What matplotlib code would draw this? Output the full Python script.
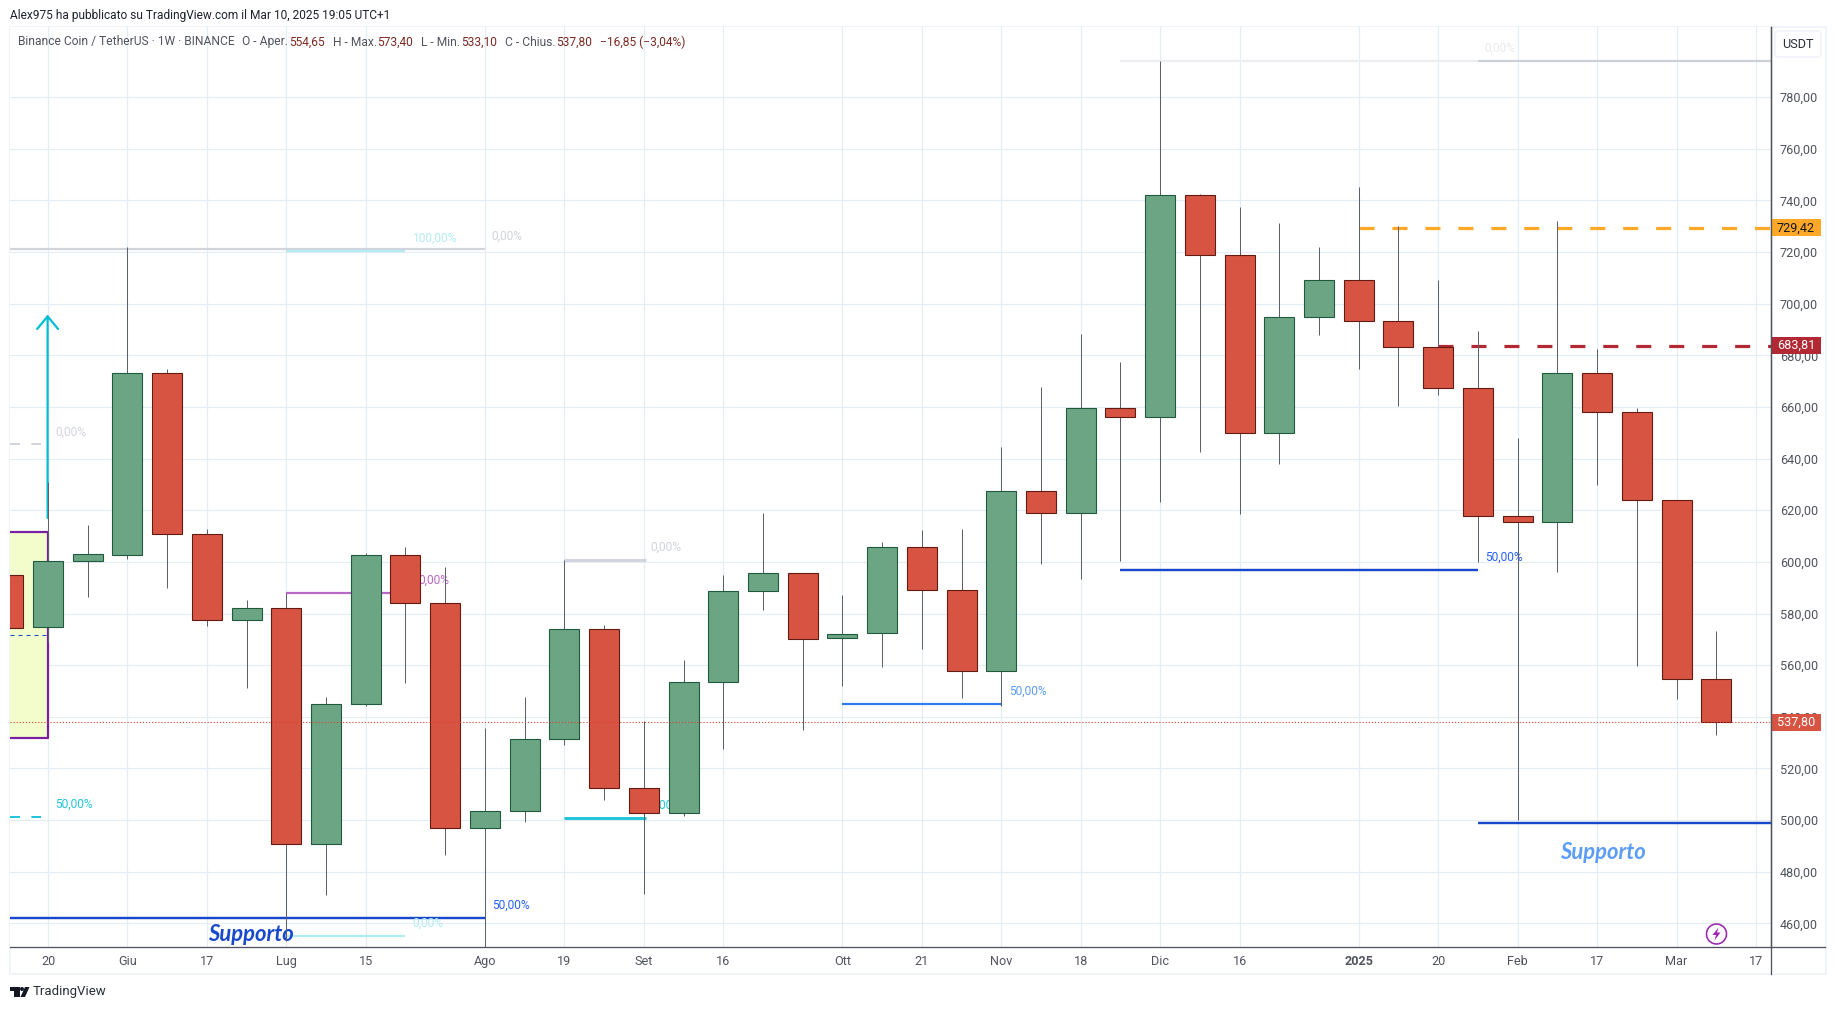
import matplotlib
matplotlib.use('Agg')
import matplotlib.pyplot as plt
from matplotlib.lines import Line2D
from matplotlib.patches import Rectangle, Polygon, Ellipse, FancyBboxPatch

# weekly candles, index 0 = 20 May 2024, first one is cut by the left edge
week_idx = list(range(-1, 43))
opens = [594.8, 574.7, 600.2, 602.6, 673.0, 610.7, 577.4, 582.0, 490.6, 544.9, 602.6,
         584.0, 496.8, 503.4, 531.3, 573.9, 512.3, 502.9, 553.6, 588.8, 595.8, 570.6,
         572.6, 605.9, 589.2, 557.8, 627.6, 619.0, 659.7, 656.0, 742.0, 718.7, 649.9,
         694.8, 709.1, 693.2, 683.2, 667.3, 617.7, 615.6, 673.0, 658.2, 623.9, 554.65]
highs = [596.0, 631.0, 614.3, 721.9, 674.7, 612.8, 585.3, 588.1, 547.7, 603.5, 605.8,
         598.0, 535.7, 547.7, 600.8, 575.5, 538.5, 562.0, 594.8, 618.8, 595.8, 587.0,
         607.6, 612.2, 612.6, 644.4, 667.6, 688.1, 677.3, 794.1, 742.6, 737.5, 731.3,
         722.0, 745.3, 730.2, 709.2, 689.5, 648.0, 732.1, 682.5, 659.7, 623.9, 573.4]
lows = [570.0, 569.1, 586.4, 601.1, 589.9, 575.2, 551.3, 453.0, 471.0, 544.0, 553.2,
        486.6, 450.0, 499.4, 529.1, 507.9, 471.4, 501.6, 527.5, 581.3, 534.9, 551.9,
        559.3, 566.2, 547.2, 544.2, 599.2, 593.4, 600.3, 623.2, 642.4, 618.6, 638.1,
        688.0, 674.9, 660.2, 664.8, 600.0, 500.0, 596.1, 629.8, 559.8, 546.9, 533.1]
closes = [574.3, 600.2, 603.0, 673.0, 610.7, 577.4, 582.0, 490.6, 544.9, 602.6, 584.0,
          496.8, 503.4, 531.3, 573.9, 512.3, 502.9, 553.6, 588.8, 595.8, 570.2, 572.2,
          605.9, 589.2, 557.8, 627.6, 619.0, 659.7, 656.2, 742.0, 718.7, 649.9, 694.8,
          709.1, 693.2, 683.2, 667.3, 617.7, 615.6, 673.0, 658.2, 623.9, 554.5, 537.8]

price_ticks = [460, 480, 500, 520, 540, 560, 580, 600, 620, 640, 660, 680, 700, 720, 740, 760, 780]
time_idx = [0, 2, 4, 6, 8, 11, 13, 15, 17, 20, 22, 24, 26, 28, 30, 33, 35, 37, 39, 41, 43]
time_labels = ['20', 'Giu', '17', 'Lug', '15', 'Ago', '19', 'Set', '16', 'Ott', '21', 'Nov',
               '18', 'Dic', '16', '2025', '20', 'Feb', '17', 'Mar', '17']

last_close = 537.80
resistance_1 = 729.42
resistance_2 = 683.81

W, H = 1835, 1010
LEFT, RIGHT, TOP, BOTTOM = 10, 1771, 27, 947.3
X0, STEP = 48.0, 39.72
FONT = 'Roboto'
GREEN, GREEN_EDGE = '#6ca584', '#1f5a3e'
RED, RED_EDGE = '#d85442', '#621a12'
GREY_TEXT = '#50535e'


def px(x, y):
    return x / W, 1 - y / H


def fs(size_px):
    return size_px * 0.72


def lw(width_px):
    return width_px * 0.72


fig = plt.figure(figsize=(W / 100, H / 100), dpi=100, facecolor='white')
ax = fig.add_axes([LEFT / W, 1 - BOTTOM / H, (RIGHT - LEFT) / W, (BOTTOM - TOP) / H])
xl = (LEFT - X0) / STEP
xr = (RIGHT - X0) / STEP
ax.set_xlim(xl, xr)
ax.set_ylim(450.7, 807.2)
ax.set_axisbelow(True)
ax.grid(True, color='#e3edf3', lw=lw(1.2))

for s in ['left', 'top']:
    ax.spines[s].set_visible(False)
for s in ['right', 'bottom']:
    ax.spines[s].set_color(GREY_TEXT)
    ax.spines[s].set_linewidth(lw(1.3))

ax.yaxis.tick_right()
ax.set_yticks(price_ticks)
ax.set_yticklabels([f'{p},00' for p in price_ticks], fontfamily=FONT, fontsize=fs(12.6), color=GREY_TEXT,
                   va='center_baseline')
ax.set_xticks(time_idx)
ax.set_xticklabels(time_labels, fontfamily=FONT, fontsize=fs(12.6), color=GREY_TEXT)
ax.tick_params(axis='both', length=0)
ax.tick_params(axis='y', pad=6.5)
ax.tick_params(axis='x', pad=5.5)
ax.get_xticklabels()[15].set_fontweight('bold')


def level(x0, x1, y, color, width, **kw):
    ax.plot([x0, x1], [y, y], color=color, lw=lw(width), solid_capstyle='butt', zorder=1.5, **kw)


def pct(x, y, s, color):
    ax.text(x, y, s, color=color, fontfamily=FONT, fontsize=fs(12), va='center', ha='left', zorder=1.6)


# left box
ax.add_patch(Rectangle((xl, 531.8), -xl, 79.9, facecolor='#f2fdcb', edgecolor='none', zorder=1))
ax.plot([xl, 0, 0, xl], [611.7, 611.7, 531.8, 531.8], color='#7b1fa2', lw=lw(2.2), zorder=1.4)
ax.plot([xl, 0], [571.6, 571.6], color='#1848cc', lw=lw(1), ls=(0, (4, 4)), zorder=1.4)
ax.annotate('', xy=(-0.01, 695.8), xytext=(-0.01, 617), zorder=1.5,
            arrowprops=dict(arrowstyle='->,head_length=0.57,head_width=0.47', color='#00bcd4',
                            lw=lw(2.2), shrinkA=0, shrinkB=0, mutation_scale=16))
level(xl, -0.18, 645.8, '#d1d4dc', 2, ls=(0, (5, 5.7)))
level(xl, -0.18, 501.2, '#26c6da', 2, ls=(0, (5, 5.7)))
pct(0.19, 650.4, '0,00%', '#d1d4dc')
pct(0.19, 506.0, '50,00%', '#26c6da')

# fib levels
level(xl, 11, 721.3, '#d1d4dc', 2.2)
level(6, 9, 720.6, '#b2ebf2', 2.2)
pct(9.19, 725.2, '100,00%', '#b2ebf2')
pct(11.16, 726.0, '0,00%', '#d1d4dc')
level(6, 9, 588.1, '#ba68c8', 2.2)
pct(9.33, 592.8, '0,00%', '#ba68c8')
level(xl, 11, 462.2, '#1848cc', 2.4)
pct(11.18, 466.9, '50,00%', '#2962ff')
level(6, 9, 455.2, '#b2ebf2', 2.2)
pct(9.17, 460.0, '0,00%', '#b2ebf2')
level(13, 15.05, 600.6, '#d1d4dc', 3)
pct(15.17, 605.5, '0,00%', '#d1d4dc')
level(13, 15.05, 500.7, '#26c6da', 3)
pct(15.17, 505.6, '0,00%', '#26c6da')
level(20, 24, 544.9, '#2f7bef', 2.2)
pct(24.2, 549.7, '50,00%', '#5b9cf6')
level(27, 36, 596.9, '#1848cc', 2.4)
pct(36.17, 601.7, '50,00%', '#2962ff')
level(27, 36, 794.0, '#eceef2', 2.2)
level(36, xr, 794.0, '#ccd0d8', 2.2)
pct(36.16, 798.9, '0,00%', '#e8eaee')
level(36, xr, 498.9, '#1848cc', 2.4)

ax.text(5.12, 455.8, 'Supporto', color='#1848cc', fontfamily='Lato', fontweight='bold', fontstyle='italic',
        fontsize=fs(22), ha='center', va='center', zorder=1.55)
ax.text(39.15, 487.4, 'Supporto', color='#5b9cf6', fontfamily='Lato', fontweight='bold', fontstyle='italic',
        fontsize=fs(22), ha='center', va='center', zorder=1.55)

level(33, xr, resistance_1, '#ffa726', 3.2, ls=(0, (4.7, 5.6)))
level(35, xr, resistance_2, '#b22833', 3.2, ls=(0, (4.7, 5.6)))

# candles
for i, o, h, l, c in zip(week_idx, opens, highs, lows, closes):
    up = c >= o
    wick = ax.vlines(i, l, h, color='#5d606b', lw=lw(1), zorder=2)
    wick.set_snap(True)
    ax.bar(i, abs(c - o), bottom=min(o, c), width=30 / STEP, color=GREEN if up else RED,
           edgecolor=GREEN_EDGE if up else RED_EDGE, linewidth=lw(1.1), zorder=3)

ax.axhline(last_close, color='#e0402a', lw=lw(1.1), ls=(0, (1, 1.8)), zorder=4)

# price labels on the axis
trans = ax.get_yaxis_transform()
box_w = 50 / (RIGHT - LEFT)
box_h = 8.4 * (807.2 - 450.7) / (BOTTOM - TOP)
for value, bg, fg in [(resistance_1, '#ffa726', '#131722'), (resistance_2, '#b22833', 'white'),
                      (last_close, '#d85442', 'white')]:
    ax.add_patch(Rectangle((1, value - box_h), box_w, 2 * box_h, transform=trans, facecolor=bg,
                           edgecolor='none', clip_on=False, zorder=6))
    ax.text(1 + box_w / 2, value, f'{value:.2f}'.replace('.', ','), transform=trans, color=fg, ha='center',
            va='center', fontfamily=FONT, fontsize=fs(12.6), zorder=7)

# frame around the pane
fig.add_artist(Rectangle(px(LEFT, 974), (1826 - LEFT) / W, (974 - TOP) / H, transform=fig.transFigure,
                         facecolor='none', edgecolor='#f0f3fa', lw=lw(2), zorder=-1))
fig.add_artist(Line2D(*zip(px(RIGHT, BOTTOM), px(1825, BOTTOM)), color=GREY_TEXT, lw=lw(1.3)))
fig.add_artist(Line2D(*zip(px(RIGHT, TOP), px(RIGHT, 974)), color=GREY_TEXT, lw=lw(1.3)))

fig.add_artist(FancyBboxPatch((1775, H - 57), 46, 26, boxstyle='round,pad=0,rounding_size=4', transform=None,
                              facecolor='white', edgecolor='#f0f3fa', lw=lw(1.5), zorder=5))
fig.text(*px(1798, 44.5), 'USDT', color='#2a2e39', fontfamily=FONT, fontsize=fs(12.6), ha='center', va='center', zorder=6)

# header text and legend line
fig.text(*px(10, 15), 'Alex975 ha pubblicato su TradingView.com il Mar 10, 2025 19:05 UTC+1', color='#1e222d',
         fontfamily=FONT, fontsize=fs(11.95), va='center')
legend_parts = [(17.9, 'Binance Coin / TetherUS · 1W · BINANCE', GREY_TEXT), (242, 'O - Aper.', GREY_TEXT),
                (289, '554,65', '#7a2a22'), (333, 'H - Max.', GREY_TEXT), (377.4, '573,40', '#7a2a22'),
                (420.6, 'L - Min.', GREY_TEXT), (461.4, '533,10', '#7a2a22'), (504.6, 'C - Chius.', GREY_TEXT),
                (556, '537,80', '#7a2a22'), (599.6, '−16,85 (−3,04%)', '#7a2a22')]
for lx, s, col in legend_parts:
    fig.text(*px(lx, 42), s, color=col, fontfamily=FONT, fontsize=fs(12), va='center', zorder=6)

# lightning badge
fig.add_artist(Ellipse(px(1716.5, 934), 20 / W, 20 / H, transform=fig.transFigure, facecolor='none',
                       edgecolor='#9c27b0', lw=lw(1.6), zorder=6))
fig.add_artist(Polygon([px(1718.5, 927.5), px(1712.5, 935), px(1716, 935), px(1714.5, 940.5), px(1720.5, 932.5),
                        px(1717, 932.5)], closed=True, transform=fig.transFigure, facecolor='#9c27b0',
                       edgecolor='none', zorder=6))

# footer logo and name
for pts in ([(10, 987), (19.5, 987), (19.5, 997), (14, 997), (14, 991), (10, 991)],
            [(25, 987), (29.5, 987), (25, 997), (20.5, 997)]):
    fig.add_artist(Polygon([px(*p) for p in pts], closed=True, transform=fig.transFigure, facecolor='#131722',
                           edgecolor='none'))
fig.add_artist(Ellipse(px(22, 989), 4 / W, 4 / H, transform=fig.transFigure, facecolor='#131722', edgecolor='none'))
fig.text(*px(33, 992), 'TradingView', color='#2a2e39', fontfamily=FONT, fontsize=fs(13.2), va='center')

fig.savefig('out.png', dpi=100)
